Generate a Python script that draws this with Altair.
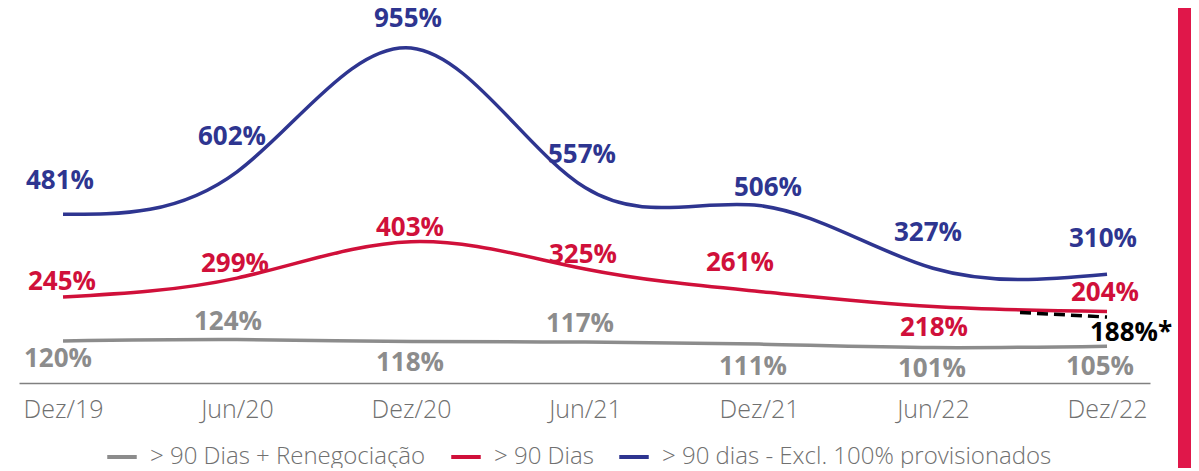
import altair as alt
import pandas as pd

# ---- data ----
periods = ["Dez/19", "Jun/20", "Dez/20", "Jun/21", "Dez/21", "Jun/22", "Dez/22"]
series_names = ["> 90 Dias + Renegociação", "> 90 Dias", "> 90 dias - Excl. 100% provisionados"]
renegociacao = [120, 124, 118, 117, 111, 101, 105]
dias90 = [245, 299, 403, 325, 261, 218, 204]
excl100 = [481, 602, 955, 557, 506, 327, 310]
ajustado_idx = [5.5, 6]
ajustado = [201, 188]
ajustado_label = "188%*"

# ---- label placement (pixel offsets, style only) ----
lab_dx = {
    series_names[0]: [-5, -9, -1, -5, -6, -1, -7],
    series_names[1]: [-1, -2, -1, -2, -19, 1, -2],
    series_names[2]: [-3, -5, -3, -3, 9, -5, -4],
}
lab_dy = {
    series_names[0]: [18, -18, 21, -18, 23, 21, 21],
    series_names[1]: [-15, -14, -14, -14, -28, 21, -18],
    series_names[2]: [-33, -35, -29, -33, -17, -35, -35],
}

GRAY = "#8c8c8c"
RED = "#d0103a"
BLUE = "#2e3590"
colors = [GRAY, RED, BLUE]

W, H = 1131, 375
X_DOMAIN = [-0.253, 6.247]
Y_DOMAIN = [0, 1069]
ux = (X_DOMAIN[1] - X_DOMAIN[0]) / W   # data units per pixel (x)
uy = (Y_DOMAIN[1] - Y_DOMAIN[0]) / H   # data units per pixel (y)

rows = []
for name, vals in zip(series_names, [renegociacao, dias90, excl100]):
    for i, v in enumerate(vals):
        rows.append({"serie": name, "idx": i, "valor": v, "label": f"{v}%",
                     "dx": lab_dx[name][i], "dy": lab_dy[name][i]})
df = pd.DataFrame(rows)
df_adj = pd.DataFrame({"idx": ajustado_idx, "valor": ajustado})
df_adj_lab = pd.DataFrame({"idx": [ajustado_idx[-1]], "valor": [ajustado[-1]], "label": [ajustado_label]})

label_expr = "[" + ",".join(f"'{p}'" for p in periods) + "][datum.value]"

x_enc = alt.X("idx:Q", scale=alt.Scale(domain=X_DOMAIN, nice=False, zero=False),
              axis=alt.Axis(values=list(range(len(periods))), labelExpr=label_expr, title=None,
                            grid=False, ticks=False, domain=True, domainColor="#808080",
                            domainWidth=1.5, labelFontSize=25, labelFont="Open Sans",
                            labelFontWeight=300, labelColor="#707070", labelPadding=14,
                            labelFlush=False))
y_enc = alt.Y("valor:Q", scale=alt.Scale(domain=Y_DOMAIN, nice=False), axis=None)

color_scale = alt.Scale(domain=series_names, range=colors)

lines = alt.Chart(df).mark_line(interpolate="natural", strokeWidth=3.5).encode(
    x=x_enc, y=y_enc,
    color=alt.Color("serie:N", scale=color_scale, sort=series_names,
                    legend=alt.Legend(title=None, orient="none", legendX=86, legendY=432,
                                      direction="horizontal", symbolType="stroke",
                                      symbolStrokeWidth=4, symbolSize=870,
                                      labelFontSize=24, labelFont="Open Sans",
                                      labelFontWeight=300, labelColor="#707070",
                                      labelLimit=600, columnPadding=17, labelOffset=11)),
    detail="serie:N",
)

dashed = alt.Chart(df_adj).mark_line(color="black", strokeWidth=3.5, strokeDash=[11, 6]).encode(
    x="idx:Q", y="valor:Q")

texts = alt.Chart(df).transform_calculate(
    lx=f"datum.idx + datum.dx * {ux}",
    ly=f"datum.valor - datum.dy * {uy}",
).mark_text(font="Open Sans", fontWeight="bold", fontSize=26,
            baseline="middle", align="center").encode(
    x="lx:Q", y="ly:Q",
    text="label:N",
    color=alt.Color("serie:N", scale=alt.Scale(domain=series_names, range=colors), legend=None),
)

adj_text = alt.Chart(df_adj_lab).mark_text(font="Open Sans", fontWeight="bold", fontSize=26,
                                           baseline="middle", align="center", color="black",
                                           dx=24, dy=16).encode(
    x="idx:Q", y="valor:Q", text="label:N")

bar = alt.Chart(df_adj_lab).mark_rect(color="#e0174a").encode(
    x=alt.value(1159), x2=alt.value(1185), y=alt.value(-10), y2=alt.value(480))

chart = alt.layer(lines, dashed, texts, adj_text, bar).resolve_scale(color="independent").properties(
    width=W, height=H,
    autosize=alt.AutoSizeParams(type="none"),
    padding={"left": 11, "top": 0, "right": 41, "bottom": 85},
).configure_view(stroke=None)

chart.save("out.html", embed_options={"renderer": "svg", "actions": False})
